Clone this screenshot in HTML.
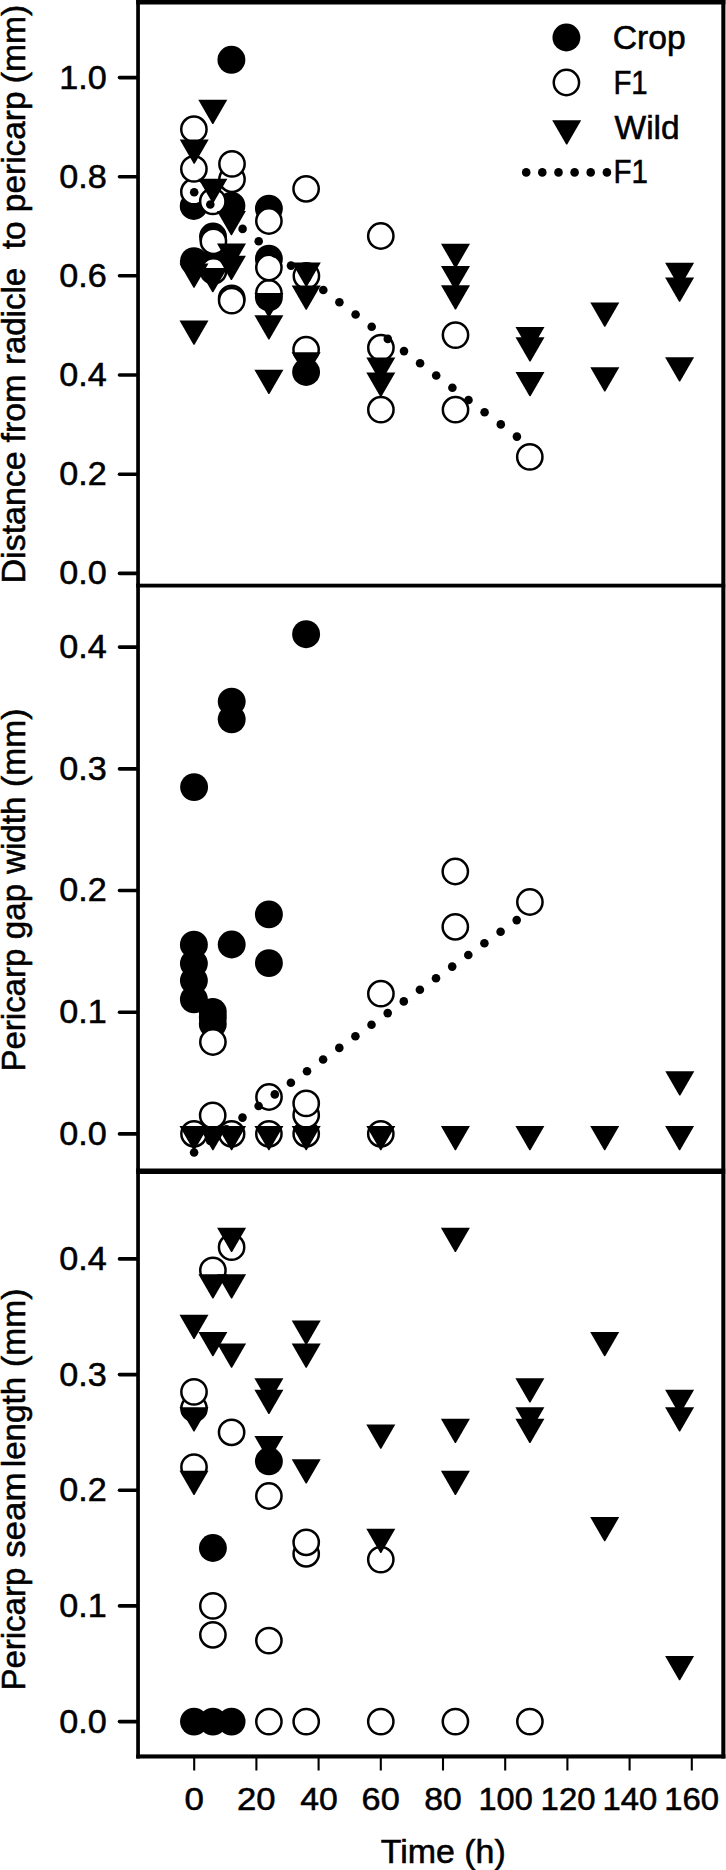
<!DOCTYPE html>
<html lang="en"><head><meta charset="utf-8"><title>Pericarp measurements over time</title>
<style>html,body{margin:0;padding:0;background:#fff}body{width:726px;height:1870px;overflow:hidden}svg{display:block}text{font-family:"Liberation Sans",sans-serif;fill:#000;stroke:#000;stroke-width:0.55px}</style></head><body>
<svg width="726" height="1870" viewBox="0 0 726 1870">
<rect width="726" height="1870" fill="#fff"/>
<g id="panel1">
<circle cx="193.9" cy="261.2" r="13.95" fill="#000"/>
<circle cx="193.7" cy="206.0" r="13.95" fill="#000"/>
<circle cx="213.2" cy="263.0" r="13.95" fill="#000"/>
<circle cx="213.0" cy="236.5" r="13.95" fill="#000"/>
<circle cx="231.4" cy="205.7" r="13.95" fill="#000"/>
<circle cx="231.4" cy="59.8" r="13.95" fill="#000"/>
<circle cx="268.9" cy="297.3" r="13.95" fill="#000"/>
<circle cx="268.9" cy="258.7" r="13.95" fill="#000"/>
<circle cx="268.9" cy="208.6" r="13.95" fill="#000"/>
<circle cx="306.1" cy="372.0" r="13.95" fill="#000"/>
<circle cx="193.9" cy="191.7" r="12.65" fill="#fff" stroke="#000" stroke-width="2.5"/>
<circle cx="193.9" cy="168.9" r="12.65" fill="#fff" stroke="#000" stroke-width="2.5"/>
<circle cx="193.9" cy="129.2" r="12.65" fill="#fff" stroke="#000" stroke-width="2.5"/>
<circle cx="212.8" cy="201.4" r="12.65" fill="#fff" stroke="#000" stroke-width="2.5"/>
<circle cx="213.5" cy="271.0" r="12.65" fill="#fff" stroke="#000" stroke-width="2.5"/>
<circle cx="213.4" cy="241.3" r="12.65" fill="#fff" stroke="#000" stroke-width="2.5"/>
<circle cx="231.7" cy="298.4" r="12.65" fill="#fff" stroke="#000" stroke-width="2.5"/>
<circle cx="232.0" cy="179.3" r="12.65" fill="#fff" stroke="#000" stroke-width="2.5"/>
<circle cx="232.0" cy="163.9" r="12.65" fill="#fff" stroke="#000" stroke-width="2.5"/>
<circle cx="231.7" cy="300.6" r="12.65" fill="#fff" stroke="#000" stroke-width="2.5"/>
<circle cx="268.9" cy="293.0" r="12.65" fill="#fff" stroke="#000" stroke-width="2.5"/>
<circle cx="268.9" cy="267.5" r="12.65" fill="#fff" stroke="#000" stroke-width="2.5"/>
<circle cx="268.9" cy="221.0" r="12.65" fill="#fff" stroke="#000" stroke-width="2.5"/>
<circle cx="306.1" cy="349.7" r="12.65" fill="#fff" stroke="#000" stroke-width="2.5"/>
<circle cx="306.4" cy="275.9" r="12.65" fill="#fff" stroke="#000" stroke-width="2.5"/>
<circle cx="306.1" cy="188.8" r="12.65" fill="#fff" stroke="#000" stroke-width="2.5"/>
<circle cx="380.9" cy="409.7" r="12.65" fill="#fff" stroke="#000" stroke-width="2.5"/>
<circle cx="380.9" cy="347.7" r="12.65" fill="#fff" stroke="#000" stroke-width="2.5"/>
<circle cx="380.8" cy="236.0" r="12.65" fill="#fff" stroke="#000" stroke-width="2.5"/>
<circle cx="455.5" cy="409.7" r="12.65" fill="#fff" stroke="#000" stroke-width="2.5"/>
<circle cx="455.5" cy="335.1" r="12.65" fill="#fff" stroke="#000" stroke-width="2.5"/>
<circle cx="529.8" cy="456.9" r="12.65" fill="#fff" stroke="#000" stroke-width="2.5"/>
<path d="M179.50 320.40H208.50L194.49 344.65H193.51Z" fill="#000"/>
<path d="M179.50 263.60H208.50L194.49 287.85H193.51Z" fill="#000"/>
<path d="M179.70 139.40H208.70L194.69 163.65H193.71Z" fill="#000"/>
<path d="M198.30 268.00H227.30L213.29 292.25H212.31Z" fill="#000"/>
<path d="M198.40 178.70H227.40L213.39 202.95H212.41Z" fill="#000"/>
<path d="M198.30 99.70H227.30L213.29 123.95H212.31Z" fill="#000"/>
<path d="M216.90 255.70H245.90L231.89 279.95H230.91Z" fill="#000"/>
<path d="M217.00 243.60H246.00L231.99 267.85H231.01Z" fill="#000"/>
<path d="M216.90 211.00H245.90L231.89 235.25H230.91Z" fill="#000"/>
<path d="M254.40 369.70H283.40L269.39 393.95H268.41Z" fill="#000"/>
<path d="M254.40 315.30H283.40L269.39 339.55H268.41Z" fill="#000"/>
<path d="M254.40 292.90H283.40L269.39 317.15H268.41Z" fill="#000"/>
<path d="M291.60 352.30H320.60L306.59 376.55H305.61Z" fill="#000"/>
<path d="M291.70 285.60H320.70L306.69 309.85H305.71Z" fill="#000"/>
<path d="M291.80 262.60H320.80L306.79 286.85H305.81Z" fill="#000"/>
<path d="M366.30 372.50H395.30L381.29 396.75H380.31Z" fill="#000"/>
<path d="M366.30 357.50H395.30L381.29 381.75H380.31Z" fill="#000"/>
<path d="M441.00 285.30H470.00L455.99 309.55H455.01Z" fill="#000"/>
<path d="M441.00 266.00H470.00L455.99 290.25H455.01Z" fill="#000"/>
<path d="M441.00 243.70H470.00L455.99 267.95H455.01Z" fill="#000"/>
<path d="M515.50 372.00H544.50L530.49 396.25H529.51Z" fill="#000"/>
<path d="M515.50 337.20H544.50L530.49 361.45H529.51Z" fill="#000"/>
<path d="M515.50 327.00H544.50L530.49 351.25H529.51Z" fill="#000"/>
<path d="M590.30 367.20H619.30L605.29 391.45H604.31Z" fill="#000"/>
<path d="M590.30 302.50H619.30L605.29 326.75H604.31Z" fill="#000"/>
<path d="M665.10 357.30H694.10L680.09 381.55H679.11Z" fill="#000"/>
<path d="M665.10 277.60H694.10L680.09 301.85H679.11Z" fill="#000"/>
<path d="M665.10 262.70H694.10L680.09 286.95H679.11Z" fill="#000"/>
<circle cx="194.2" cy="192.3" r="4.3" fill="#000"/>
<circle cx="210.3" cy="204.5" r="4.3" fill="#000"/>
<circle cx="226.5" cy="216.7" r="4.3" fill="#000"/>
<circle cx="242.6" cy="228.9" r="4.3" fill="#000"/>
<circle cx="258.7" cy="241.2" r="4.3" fill="#000"/>
<circle cx="274.9" cy="253.4" r="4.3" fill="#000"/>
<circle cx="291.0" cy="265.6" r="4.3" fill="#000"/>
<circle cx="307.1" cy="277.8" r="4.3" fill="#000"/>
<circle cx="323.3" cy="290.0" r="4.3" fill="#000"/>
<circle cx="339.4" cy="302.2" r="4.3" fill="#000"/>
<circle cx="355.6" cy="314.5" r="4.3" fill="#000"/>
<circle cx="371.7" cy="326.7" r="4.3" fill="#000"/>
<circle cx="387.8" cy="338.9" r="4.3" fill="#000"/>
<circle cx="404.0" cy="351.1" r="4.3" fill="#000"/>
<circle cx="420.1" cy="363.3" r="4.3" fill="#000"/>
<circle cx="436.2" cy="375.5" r="4.3" fill="#000"/>
<circle cx="452.4" cy="387.7" r="4.3" fill="#000"/>
<circle cx="468.5" cy="400.0" r="4.3" fill="#000"/>
<circle cx="484.6" cy="412.2" r="4.3" fill="#000"/>
<circle cx="500.8" cy="424.4" r="4.3" fill="#000"/>
<circle cx="516.9" cy="436.6" r="4.3" fill="#000"/>
</g>
<g id="panel2">
<circle cx="193.9" cy="999.4" r="13.95" fill="#000"/>
<circle cx="193.9" cy="980.6" r="13.95" fill="#000"/>
<circle cx="193.9" cy="963.5" r="13.95" fill="#000"/>
<circle cx="193.9" cy="944.7" r="13.95" fill="#000"/>
<circle cx="194.1" cy="787.1" r="13.95" fill="#000"/>
<circle cx="212.8" cy="1024.0" r="13.95" fill="#000"/>
<circle cx="212.8" cy="1017.5" r="13.95" fill="#000"/>
<circle cx="212.8" cy="1011.9" r="13.95" fill="#000"/>
<circle cx="231.7" cy="944.5" r="13.95" fill="#000"/>
<circle cx="231.7" cy="719.3" r="13.95" fill="#000"/>
<circle cx="231.7" cy="701.6" r="13.95" fill="#000"/>
<circle cx="268.9" cy="963.1" r="13.95" fill="#000"/>
<circle cx="268.9" cy="914.4" r="13.95" fill="#000"/>
<circle cx="306.1" cy="634.2" r="13.95" fill="#000"/>
<circle cx="194.0" cy="1133.8" r="12.65" fill="#fff" stroke="#000" stroke-width="2.5"/>
<circle cx="212.7" cy="1115.4" r="12.65" fill="#fff" stroke="#000" stroke-width="2.5"/>
<circle cx="212.9" cy="1042.0" r="12.65" fill="#fff" stroke="#000" stroke-width="2.5"/>
<circle cx="231.6" cy="1133.8" r="12.65" fill="#fff" stroke="#000" stroke-width="2.5"/>
<circle cx="268.9" cy="1133.8" r="12.65" fill="#fff" stroke="#000" stroke-width="2.5"/>
<circle cx="269.0" cy="1097.0" r="12.65" fill="#fff" stroke="#000" stroke-width="2.5"/>
<circle cx="306.2" cy="1133.8" r="12.65" fill="#fff" stroke="#000" stroke-width="2.5"/>
<circle cx="306.2" cy="1115.0" r="12.65" fill="#fff" stroke="#000" stroke-width="2.5"/>
<circle cx="306.2" cy="1103.4" r="12.65" fill="#fff" stroke="#000" stroke-width="2.5"/>
<circle cx="380.8" cy="1133.8" r="12.65" fill="#fff" stroke="#000" stroke-width="2.5"/>
<circle cx="380.9" cy="993.7" r="12.65" fill="#fff" stroke="#000" stroke-width="2.5"/>
<circle cx="455.3" cy="926.8" r="12.65" fill="#fff" stroke="#000" stroke-width="2.5"/>
<circle cx="455.3" cy="871.5" r="12.65" fill="#fff" stroke="#000" stroke-width="2.5"/>
<circle cx="529.9" cy="902.0" r="12.65" fill="#fff" stroke="#000" stroke-width="2.5"/>
<path d="M179.50 1126.00H208.50L194.49 1150.25H193.51Z" fill="#000"/>
<path d="M198.40 1126.00H227.40L213.39 1150.25H212.41Z" fill="#000"/>
<path d="M217.10 1126.00H246.10L232.09 1150.25H231.11Z" fill="#000"/>
<path d="M254.40 1126.00H283.40L269.39 1150.25H268.41Z" fill="#000"/>
<path d="M291.70 1126.00H320.70L306.69 1150.25H305.71Z" fill="#000"/>
<path d="M366.30 1126.00H395.30L381.29 1150.25H380.31Z" fill="#000"/>
<path d="M440.90 1126.00H469.90L455.89 1150.25H454.91Z" fill="#000"/>
<path d="M515.40 1126.00H544.40L530.39 1150.25H529.41Z" fill="#000"/>
<path d="M590.20 1126.00H619.20L605.19 1150.25H604.21Z" fill="#000"/>
<path d="M665.10 1126.00H694.10L680.09 1150.25H679.11Z" fill="#000"/>
<path d="M665.30 1071.30H694.30L680.29 1095.55H679.31Z" fill="#000"/>
<circle cx="194.1" cy="1152.5" r="4.3" fill="#000"/>
<circle cx="210.2" cy="1140.9" r="4.3" fill="#000"/>
<circle cx="226.4" cy="1129.3" r="4.3" fill="#000"/>
<circle cx="242.5" cy="1117.6" r="4.3" fill="#000"/>
<circle cx="258.6" cy="1106.0" r="4.3" fill="#000"/>
<circle cx="274.8" cy="1094.4" r="4.3" fill="#000"/>
<circle cx="290.9" cy="1082.8" r="4.3" fill="#000"/>
<circle cx="307.0" cy="1071.2" r="4.3" fill="#000"/>
<circle cx="323.1" cy="1059.5" r="4.3" fill="#000"/>
<circle cx="339.3" cy="1047.9" r="4.3" fill="#000"/>
<circle cx="355.4" cy="1036.3" r="4.3" fill="#000"/>
<circle cx="371.5" cy="1024.7" r="4.3" fill="#000"/>
<circle cx="387.7" cy="1013.1" r="4.3" fill="#000"/>
<circle cx="403.8" cy="1001.4" r="4.3" fill="#000"/>
<circle cx="419.9" cy="989.8" r="4.3" fill="#000"/>
<circle cx="436.0" cy="978.2" r="4.3" fill="#000"/>
<circle cx="452.2" cy="966.6" r="4.3" fill="#000"/>
<circle cx="468.3" cy="955.0" r="4.3" fill="#000"/>
<circle cx="484.4" cy="943.3" r="4.3" fill="#000"/>
<circle cx="500.6" cy="931.7" r="4.3" fill="#000"/>
<circle cx="516.7" cy="920.1" r="4.3" fill="#000"/>
</g>
<g id="panel3">
<circle cx="194.0" cy="1721.6" r="13.95" fill="#000"/>
<circle cx="212.9" cy="1721.6" r="13.95" fill="#000"/>
<circle cx="212.9" cy="1548.0" r="13.95" fill="#000"/>
<circle cx="231.6" cy="1721.6" r="13.95" fill="#000"/>
<circle cx="268.9" cy="1461.3" r="13.95" fill="#000"/>
<circle cx="194.0" cy="1467.1" r="12.65" fill="#fff" stroke="#000" stroke-width="2.5"/>
<circle cx="194.0" cy="1408.4" r="12.65" fill="#fff" stroke="#000" stroke-width="2.5"/>
<circle cx="194.0" cy="1391.9" r="12.65" fill="#fff" stroke="#000" stroke-width="2.5"/>
<circle cx="212.9" cy="1634.8" r="12.65" fill="#fff" stroke="#000" stroke-width="2.5"/>
<circle cx="212.9" cy="1605.9" r="12.65" fill="#fff" stroke="#000" stroke-width="2.5"/>
<circle cx="212.9" cy="1270.4" r="12.65" fill="#fff" stroke="#000" stroke-width="2.5"/>
<circle cx="231.6" cy="1432.3" r="12.65" fill="#fff" stroke="#000" stroke-width="2.5"/>
<circle cx="231.6" cy="1247.2" r="12.65" fill="#fff" stroke="#000" stroke-width="2.5"/>
<circle cx="268.9" cy="1721.6" r="12.65" fill="#fff" stroke="#000" stroke-width="2.5"/>
<circle cx="268.9" cy="1640.6" r="12.65" fill="#fff" stroke="#000" stroke-width="2.5"/>
<circle cx="268.9" cy="1496.0" r="12.65" fill="#fff" stroke="#000" stroke-width="2.5"/>
<circle cx="306.2" cy="1721.6" r="12.65" fill="#fff" stroke="#000" stroke-width="2.5"/>
<circle cx="306.2" cy="1553.8" r="12.65" fill="#fff" stroke="#000" stroke-width="2.5"/>
<circle cx="306.2" cy="1542.3" r="12.65" fill="#fff" stroke="#000" stroke-width="2.5"/>
<circle cx="380.8" cy="1721.6" r="12.65" fill="#fff" stroke="#000" stroke-width="2.5"/>
<circle cx="380.8" cy="1559.6" r="12.65" fill="#fff" stroke="#000" stroke-width="2.5"/>
<circle cx="455.4" cy="1721.6" r="12.65" fill="#fff" stroke="#000" stroke-width="2.5"/>
<circle cx="529.9" cy="1721.6" r="12.65" fill="#fff" stroke="#000" stroke-width="2.5"/>
<path d="M179.50 1470.83H208.50L194.49 1495.08H193.51Z" fill="#000"/>
<path d="M179.50 1407.19H208.50L194.49 1431.44H193.51Z" fill="#000"/>
<path d="M179.50 1314.63H208.50L194.49 1338.88H193.51Z" fill="#000"/>
<path d="M198.40 1331.99H227.40L213.39 1356.24H212.41Z" fill="#000"/>
<path d="M198.40 1274.14H227.40L213.39 1298.39H212.41Z" fill="#000"/>
<path d="M217.10 1343.56H246.10L232.09 1367.81H231.11Z" fill="#000"/>
<path d="M217.10 1274.14H246.10L232.09 1298.39H231.11Z" fill="#000"/>
<path d="M217.10 1227.86H246.10L232.09 1252.11H231.11Z" fill="#000"/>
<path d="M254.40 1436.12H283.40L269.39 1460.37H268.41Z" fill="#000"/>
<path d="M254.40 1389.84H283.40L269.39 1414.09H268.41Z" fill="#000"/>
<path d="M254.40 1378.27H283.40L269.39 1402.52H268.41Z" fill="#000"/>
<path d="M291.70 1459.26H320.70L306.69 1483.51H305.71Z" fill="#000"/>
<path d="M291.70 1343.56H320.70L306.69 1367.81H305.71Z" fill="#000"/>
<path d="M291.70 1320.42H320.70L306.69 1344.67H305.71Z" fill="#000"/>
<path d="M366.30 1528.68H395.30L381.29 1552.93H380.31Z" fill="#000"/>
<path d="M366.30 1424.55H395.30L381.29 1448.80H380.31Z" fill="#000"/>
<path d="M440.90 1470.83H469.90L455.89 1495.08H454.91Z" fill="#000"/>
<path d="M440.90 1418.76H469.90L455.89 1443.01H454.91Z" fill="#000"/>
<path d="M440.90 1227.86H469.90L455.89 1252.11H454.91Z" fill="#000"/>
<path d="M515.40 1418.76H544.40L530.39 1443.01H529.41Z" fill="#000"/>
<path d="M515.40 1407.19H544.40L530.39 1431.44H529.41Z" fill="#000"/>
<path d="M515.40 1378.27H544.40L530.39 1402.52H529.41Z" fill="#000"/>
<path d="M590.20 1517.11H619.20L605.19 1541.36H604.21Z" fill="#000"/>
<path d="M590.20 1331.99H619.20L605.19 1356.24H604.21Z" fill="#000"/>
<path d="M665.10 1655.95H694.10L680.09 1680.20H679.11Z" fill="#000"/>
<path d="M665.10 1407.19H694.10L680.09 1431.44H679.11Z" fill="#000"/>
<path d="M665.10 1389.84H694.10L680.09 1414.09H679.11Z" fill="#000"/>
</g>
<g id="frame" fill="#000">
<rect x="136.2" y="0" width="589.2" height="4.5"/>
<rect x="136.2" y="0" width="3.7" height="1758.5"/>
<rect x="721.3" y="0" width="4.1" height="1758.5"/>
<rect x="136.2" y="583.7" width="589" height="3.8"/>
<rect x="136.2" y="1168.5" width="589" height="5.5"/>
<rect x="136.2" y="1754.4" width="589.2" height="4.1"/>
</g>
<g id="ticks" stroke="#000" stroke-linecap="round">
<line x1="119.5" y1="77.6" x2="137" y2="77.6" stroke-width="3.6"/>
<line x1="119.5" y1="176.7" x2="137" y2="176.7" stroke-width="3.6"/>
<line x1="119.5" y1="275.8" x2="137" y2="275.8" stroke-width="3.6"/>
<line x1="119.5" y1="375.0" x2="137" y2="375.0" stroke-width="3.6"/>
<line x1="119.5" y1="474.2" x2="137" y2="474.2" stroke-width="3.6"/>
<line x1="119.5" y1="573.4" x2="137" y2="573.4" stroke-width="3.6"/>
<line x1="119.5" y1="647.1" x2="137" y2="647.1" stroke-width="3.6"/>
<line x1="119.5" y1="768.9" x2="137" y2="768.9" stroke-width="3.6"/>
<line x1="119.5" y1="890.5" x2="137" y2="890.5" stroke-width="3.6"/>
<line x1="119.5" y1="1012.2" x2="137" y2="1012.2" stroke-width="3.6"/>
<line x1="119.5" y1="1133.9" x2="137" y2="1133.9" stroke-width="3.6"/>
<line x1="119.5" y1="1258.9" x2="137" y2="1258.9" stroke-width="3.6"/>
<line x1="119.5" y1="1374.6" x2="137" y2="1374.6" stroke-width="3.6"/>
<line x1="119.5" y1="1490.3" x2="137" y2="1490.3" stroke-width="3.6"/>
<line x1="119.5" y1="1605.9" x2="137" y2="1605.9" stroke-width="3.6"/>
<line x1="119.5" y1="1721.6" x2="137" y2="1721.6" stroke-width="3.6"/>
<line x1="194.2" y1="1757" x2="194.2" y2="1770.5" stroke-width="2.1" stroke-linecap="butt"/>
<line x1="256.4" y1="1757" x2="256.4" y2="1770.5" stroke-width="2.1" stroke-linecap="butt"/>
<line x1="318.6" y1="1757" x2="318.6" y2="1770.5" stroke-width="2.1" stroke-linecap="butt"/>
<line x1="380.8" y1="1757" x2="380.8" y2="1770.5" stroke-width="2.1" stroke-linecap="butt"/>
<line x1="443.0" y1="1757" x2="443.0" y2="1770.5" stroke-width="2.1" stroke-linecap="butt"/>
<line x1="505.2" y1="1757" x2="505.2" y2="1770.5" stroke-width="2.1" stroke-linecap="butt"/>
<line x1="567.4" y1="1757" x2="567.4" y2="1770.5" stroke-width="2.1" stroke-linecap="butt"/>
<line x1="629.6" y1="1757" x2="629.6" y2="1770.5" stroke-width="2.1" stroke-linecap="butt"/>
<line x1="691.8" y1="1757" x2="691.8" y2="1770.5" stroke-width="2.1" stroke-linecap="butt"/>
</g>
<g id="ylabels" font-size="33">
<text x="59.25" y="88.5" textLength="47.47" lengthAdjust="spacingAndGlyphs">1.0</text>
<text x="59.25" y="187.6" textLength="47.47" lengthAdjust="spacingAndGlyphs">0.8</text>
<text x="59.25" y="286.7" textLength="47.47" lengthAdjust="spacingAndGlyphs">0.6</text>
<text x="59.25" y="385.9" textLength="47.47" lengthAdjust="spacingAndGlyphs">0.4</text>
<text x="59.25" y="485.1" textLength="47.47" lengthAdjust="spacingAndGlyphs">0.2</text>
<text x="59.25" y="584.3" textLength="47.47" lengthAdjust="spacingAndGlyphs">0.0</text>
<text x="59.25" y="658.0" textLength="47.47" lengthAdjust="spacingAndGlyphs">0.4</text>
<text x="59.25" y="779.8" textLength="47.47" lengthAdjust="spacingAndGlyphs">0.3</text>
<text x="59.25" y="901.4" textLength="47.47" lengthAdjust="spacingAndGlyphs">0.2</text>
<text x="59.25" y="1023.1" textLength="47.47" lengthAdjust="spacingAndGlyphs">0.1</text>
<text x="59.25" y="1144.8" textLength="47.47" lengthAdjust="spacingAndGlyphs">0.0</text>
<text x="59.25" y="1269.8" textLength="47.47" lengthAdjust="spacingAndGlyphs">0.4</text>
<text x="59.25" y="1385.5" textLength="47.47" lengthAdjust="spacingAndGlyphs">0.3</text>
<text x="59.25" y="1501.2" textLength="47.47" lengthAdjust="spacingAndGlyphs">0.2</text>
<text x="59.25" y="1616.8" textLength="47.47" lengthAdjust="spacingAndGlyphs">0.1</text>
<text x="59.25" y="1732.5" textLength="47.47" lengthAdjust="spacingAndGlyphs">0.0</text>
</g>
<g id="xlabels" font-size="32">
<text x="184.43" y="1810.4" textLength="19.40" lengthAdjust="spacingAndGlyphs">0</text>
<text x="236.91" y="1810.4" textLength="38.56" lengthAdjust="spacingAndGlyphs">20</text>
<text x="300.18" y="1810.4" textLength="37.55" lengthAdjust="spacingAndGlyphs">40</text>
<text x="361.63" y="1810.4" textLength="38.12" lengthAdjust="spacingAndGlyphs">60</text>
<text x="424.27" y="1810.4" textLength="37.46" lengthAdjust="spacingAndGlyphs">80</text>
<text x="478.54" y="1810.4" textLength="54.20" lengthAdjust="spacingAndGlyphs">100</text>
<text x="540.61" y="1810.4" textLength="54.84" lengthAdjust="spacingAndGlyphs">120</text>
<text x="602.51" y="1810.4" textLength="54.74" lengthAdjust="spacingAndGlyphs">140</text>
<text x="664.21" y="1810.4" textLength="54.84" lengthAdjust="spacingAndGlyphs">160</text>
</g>
<g id="titles" font-size="33">
<text x="380.68" y="1863" textLength="125.09" lengthAdjust="spacingAndGlyphs">Time (h)</text>
<text transform="translate(24.8 583.38) rotate(-90)" textLength="132.01" lengthAdjust="spacingAndGlyphs">Distance</text>
<text transform="translate(24.8 442.52) rotate(-90)" textLength="67.98" lengthAdjust="spacingAndGlyphs">from</text>
<text transform="translate(24.8 365.10) rotate(-90)" textLength="97.21" lengthAdjust="spacingAndGlyphs">radicle</text>
<text transform="translate(24.8 249.31) rotate(-90)" textLength="27.84" lengthAdjust="spacingAndGlyphs">to</text>
<text transform="translate(24.8 212.13) rotate(-90)" textLength="120.67" lengthAdjust="spacingAndGlyphs">pericarp</text>
<text transform="translate(24.8 83.24) rotate(-90)" textLength="78.54" lengthAdjust="spacingAndGlyphs">(mm)</text>
<text transform="translate(24.8 1071.50) rotate(-90)" textLength="122.78" lengthAdjust="spacingAndGlyphs">Pericarp</text>
<text transform="translate(24.8 939.21) rotate(-90)" textLength="55.27" lengthAdjust="spacingAndGlyphs">gap</text>
<text transform="translate(24.8 873.80) rotate(-90)" textLength="77.04" lengthAdjust="spacingAndGlyphs">width</text>
<text transform="translate(24.8 787.04) rotate(-90)" textLength="78.44" lengthAdjust="spacingAndGlyphs">(mm)</text>
<text transform="translate(24.8 1690.60) rotate(-90)" textLength="122.88" lengthAdjust="spacingAndGlyphs">Pericarp</text>
<text transform="translate(24.8 1557.85) rotate(-90)" textLength="85.37" lengthAdjust="spacingAndGlyphs">seam</text>
<text transform="translate(24.8 1467.21) rotate(-90)" textLength="90.44" lengthAdjust="spacingAndGlyphs">length</text>
<text transform="translate(24.8 1367.04) rotate(-90)" textLength="78.44" lengthAdjust="spacingAndGlyphs">(mm)</text>
</g>
<g id="legend">
<circle cx="566.4" cy="37.5" r="13.95" fill="#000"/>
<circle cx="566.4" cy="82.5" r="12.65" fill="#fff" stroke="#000" stroke-width="2.5"/>
<path d="M552.20 120.30H581.20L567.19 144.55H566.21Z" fill="#000"/>
<circle cx="526.2" cy="172.4" r="4.3" fill="#000"/>
<circle cx="542.3" cy="172.4" r="4.3" fill="#000"/>
<circle cx="558.5" cy="172.4" r="4.3" fill="#000"/>
<circle cx="574.6" cy="172.4" r="4.3" fill="#000"/>
<circle cx="590.7" cy="172.4" r="4.3" fill="#000"/>
<circle cx="606.9" cy="172.4" r="4.3" fill="#000"/>
<g font-size="33">
<text x="612.77" y="48.5" textLength="72.99" lengthAdjust="spacingAndGlyphs">Crop</text>
<text x="613.39" y="93.8" textLength="34.34" lengthAdjust="spacingAndGlyphs">F1</text>
<text x="614.50" y="138.5" textLength="65.20" lengthAdjust="spacingAndGlyphs">Wild</text>
<text x="613.58" y="183" textLength="34.46" lengthAdjust="spacingAndGlyphs">F1</text>
</g></g>
</svg></body></html>
